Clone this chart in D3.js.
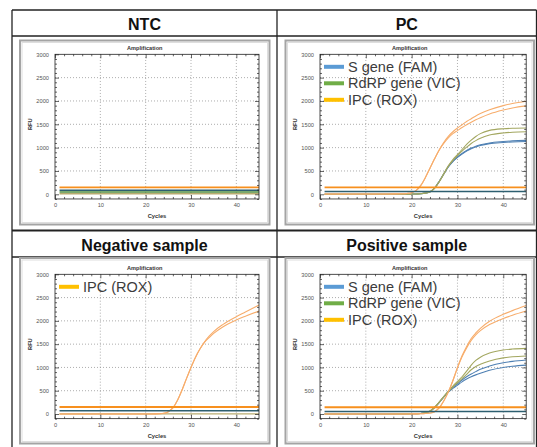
<!DOCTYPE html>
<html>
<head>
<meta charset="utf-8">
<script src="https://cdn.jsdelivr.net/npm/d3@7"></script>
<style>
  body { margin: 0; background: #fff; }
  svg { display: block; font-family: 'Liberation Sans', Arial, sans-serif; }
</style>
</head>
<body>
<div id="chart"></div>
<script>
// ---- data ----
const cellTitles = ['NTC', 'PC', 'Negative sample', 'Positive sample']
const legendLabels = ['S gene (FAM)', 'RdRP gene (VIC)', 'IPC (ROX)']
const xTicks = [0, 10, 20, 30, 40]
const yTicks = [0, 500, 1000, 1500, 2000, 2500, 3000]

// cycles where the curves were read
const cycles = [1, 10, 15, 18, 19, 20, 21, 22, 23, 24, 25, 26, 27, 28, 29, 30, 31, 32, 33, 34, 35, 37, 40, 42, 45]
const flatCycles = [1, 45]

// PC
const pcRox1 = [5, 5, 8, 12, 18, 35, 85, 190, 360, 560, 760, 950, 1110, 1240, 1340, 1420, 1490, 1560, 1620, 1680, 1730, 1810, 1900, 1945, 1995]
const pcRox2 = [5, 5, 8, 12, 18, 35, 85, 190, 360, 560, 760, 945, 1090, 1210, 1300, 1365, 1430, 1490, 1545, 1595, 1640, 1720, 1805, 1850, 1895]
const pcVic1 = [0, 0, 0, 2, 3, 5, 8, 12, 25, 55, 130, 270, 440, 610, 745, 850, 960, 1070, 1160, 1240, 1300, 1370, 1405, 1415, 1420]
const pcVic2 = [0, 0, 0, 2, 3, 5, 8, 12, 25, 50, 125, 265, 430, 600, 725, 830, 925, 1010, 1090, 1150, 1200, 1270, 1315, 1330, 1340]
const pcFam1 = [0, 0, 0, 2, 3, 5, 8, 12, 25, 55, 135, 275, 440, 590, 710, 800, 875, 940, 990, 1030, 1060, 1100, 1130, 1145, 1155]
const pcFam2 = [0, 0, 0, 2, 3, 5, 8, 12, 25, 50, 130, 270, 430, 585, 700, 790, 860, 925, 975, 1015, 1045, 1085, 1110, 1122, 1130]

// Positive sample
const posRox1 = [0, 0, 0, 0, 0, 2, 3, 5, 10, 20, 50, 130, 280, 470, 720, 1000, 1250, 1450, 1620, 1740, 1840, 1990, 2140, 2220, 2330]
const posRox2 = [0, 0, 0, 0, 0, 2, 3, 5, 10, 20, 50, 130, 280, 470, 715, 990, 1230, 1420, 1580, 1700, 1790, 1920, 2050, 2120, 2210]
const posVic1 = [0, 0, 0, 2, 3, 5, 7, 12, 28, 65, 145, 255, 375, 490, 600, 700, 800, 920, 1050, 1150, 1220, 1310, 1375, 1395, 1410]
const posVic2 = [0, 0, 0, 2, 3, 5, 7, 12, 27, 62, 140, 250, 370, 480, 580, 670, 760, 850, 950, 1020, 1070, 1140, 1205, 1228, 1245]
const posFam1 = [0, 0, 0, 2, 3, 5, 7, 12, 26, 60, 140, 250, 370, 480, 570, 650, 730, 800, 860, 910, 960, 1030, 1100, 1130, 1160]
const posFam2 = [0, 0, 0, 2, 3, 5, 7, 12, 25, 58, 135, 245, 360, 470, 550, 620, 690, 750, 800, 840, 875, 940, 1000, 1025, 1050]

// Negative sample
const negRox1 = [0, 0, 0, 0, 0, 0, 1, 2, 5, 15, 50, 130, 290, 510, 760, 1000, 1220, 1400, 1550, 1670, 1770, 1920, 2090, 2190, 2340]
const negRox2 = [0, 0, 0, 0, 0, 0, 1, 2, 5, 15, 50, 130, 290, 510, 760, 1000, 1220, 1400, 1545, 1640, 1730, 1870, 2020, 2100, 2210]

// flat lines (thresholds and non-amplified signals), NTC / PC / Neg / Pos
const roxThreshold = [[150, 150], [150, 150], [150, 150], [145, 145]]
const famThreshold = [[85, 85], [62, 62], [68, 68], [55, 55]]
const ntcVic = [49, 49]
const ntcBase = [12, 12]
const negBase = [2, 2]

// ---- layout ----
const W = 537
const H = 447
const colX = [12, 277, 536.5]
const rowY = [10, 230.5, 447]
const headBottom = [36, 257]
const colGeom = [
  { fx: 20, fw: 249.5, px0: 55, px1: 259 },
  { fx: 285.5, fw: 248.5, px0: 320, px1: 526.2 }
]
const rowGeom = [
  { fy: 40.5, fh: 184, py3000: 54.3, py0: 194.3 },
  { fy: 258, fh: 185.5, py3000: 274.3, py0: 414 }
]

const roxCurve = '#f7ad6c'
const vicCurve = '#a3a760'
const famCurve = '#4f80b3'
const legendColors = ['#5b9bd5', '#70ad47', '#ffc000']

const svg = d3.select('#chart').append('svg')
  .attr('width', W)
  .attr('height', H)

// table grid
const grid = svg.append('g').attr('stroke', '#222').attr('fill', 'none')
;[rowY[0], headBottom[0], rowY[1], headBottom[1]].forEach((yy, i) => {
  grid.append('line')
    .attr('x1', colX[0]).attr('x2', colX[2])
    .attr('y1', yy).attr('y2', yy)
    .attr('stroke-width', i === 2 ? 2 : 1.3)
})
colX.forEach(xx => {
  grid.append('line')
    .attr('x1', xx).attr('x2', xx)
    .attr('y1', rowY[0]).attr('y2', H)
    .attr('stroke-width', 1.3)
})

const line = (x, y, xs) => d3.line()
  .x((d, i) => x(xs[i]))
  .y(d => y(d))
  .curve(d3.curveMonotoneX)

const panels = [
  {
    col: 0, row: 0, legend: [],
    series: [
      { xs: flatCycles, v: ntcBase, color: '#b8ab70', w: 1.4 },
      { xs: flatCycles, v: ntcVic, color: '#4f8d3d', w: 1.4 },
      { xs: flatCycles, v: famThreshold[0], color: '#2e5f70', w: 1.5 },
      { xs: flatCycles, v: roxThreshold[0], color: '#f7901e', w: 1.8 }
    ]
  },
  {
    col: 1, row: 0, legend: [0, 1, 2],
    series: [
      { xs: cycles, v: pcFam2, color: famCurve, w: 1.1 },
      { xs: cycles, v: pcFam1, color: famCurve, w: 1.1 },
      { xs: cycles, v: pcVic2, color: vicCurve, w: 1.1 },
      { xs: cycles, v: pcVic1, color: vicCurve, w: 1.1 },
      { xs: cycles, v: pcRox2, color: roxCurve, w: 1.1 },
      { xs: cycles, v: pcRox1, color: roxCurve, w: 1.1 },
      { xs: flatCycles, v: famThreshold[1], color: '#2e5f70', w: 1.5 },
      { xs: flatCycles, v: roxThreshold[1], color: '#f7901e', w: 1.8 }
    ]
  },
  {
    col: 0, row: 1, legend: [2],
    series: [
      { xs: flatCycles, v: negBase, color: '#b8ab70', w: 1.4 },
      { xs: cycles, v: negRox2, color: roxCurve, w: 1.1 },
      { xs: cycles, v: negRox1, color: roxCurve, w: 1.1 },
      { xs: flatCycles, v: famThreshold[2], color: '#2e5f70', w: 1.5 },
      { xs: flatCycles, v: roxThreshold[2], color: '#f7901e', w: 1.8 }
    ]
  },
  {
    col: 1, row: 1, legend: [0, 1, 2],
    series: [
      { xs: cycles, v: posFam2, color: famCurve, w: 1.1 },
      { xs: cycles, v: posFam1, color: famCurve, w: 1.1 },
      { xs: cycles, v: posVic2, color: vicCurve, w: 1.1 },
      { xs: cycles, v: posVic1, color: vicCurve, w: 1.1 },
      { xs: cycles, v: posRox2, color: roxCurve, w: 1.1 },
      { xs: cycles, v: posRox1, color: roxCurve, w: 1.1 },
      { xs: flatCycles, v: famThreshold[3], color: '#2e5f70', w: 1.5 },
      { xs: flatCycles, v: roxThreshold[3], color: '#f7901e', w: 1.8 }
    ]
  }
]

const minorX = d3.range(0, 46, 2).filter(d => d % 10 !== 0)
const minorY = d3.range(-100, 3001, 100).filter(d => d % 500 !== 0)
const fmt = d3.format('d')

panels.forEach((p, k) => {
  const c = colGeom[p.col]
  const r = rowGeom[p.row]

  // cell header
  svg.append('text')
    .attr('x', (colX[p.col] + colX[p.col + 1]) / 2)
    .attr('y', headBottom[p.row] - 6.5)
    .attr('text-anchor', 'middle')
    .attr('font-weight', 'bold')
    .attr('font-size', 16)
    .attr('fill', '#111')
    .text(cellTitles[k])

  const g = svg.append('g')

  g.append('rect')
    .attr('x', c.fx).attr('y', r.fy)
    .attr('width', c.fw).attr('height', r.fh)
    .attr('fill', '#fff')
    .attr('stroke', '#a4a4a4')
    .attr('stroke-width', 2)
  g.append('rect')
    .attr('x', c.fx + 2).attr('y', r.fy + 2)
    .attr('width', c.fw - 4).attr('height', r.fh - 4)
    .attr('fill', 'none')
    .attr('stroke', '#dedede')
    .attr('stroke-width', 1)

  const x = d3.scaleLinear().domain([0, 45]).range([c.px0, c.px1])
  const y = d3.scaleLinear().domain([0, 3000]).range([r.py0, r.py3000])
  const yBot = y(-100)

  // grid
  g.selectAll('.gx').data(xTicks.filter(d => d > 0)).enter().append('line')
    .attr('x1', d => x(d)).attr('x2', d => x(d))
    .attr('y1', yBot).attr('y2', y(3000))
    .attr('stroke', '#8a8a8a').attr('stroke-width', 0.7)
    .attr('stroke-dasharray', '1,2')
  g.selectAll('.gy').data(yTicks.filter(d => d > 0 && d < 3000)).enter().append('line')
    .attr('x1', x(0)).attr('x2', x(45))
    .attr('y1', d => y(d)).attr('y2', d => y(d))
    .attr('stroke', '#8a8a8a').attr('stroke-width', 0.7)
    .attr('stroke-dasharray', '1,2')

  // curves
  const clipId = 'clip' + k
  g.append('clipPath').attr('id', clipId).append('rect')
    .attr('x', x(0)).attr('y', y(3000))
    .attr('width', x(45) - x(0)).attr('height', yBot - y(3000))
  const lines = g.append('g').attr('clip-path', `url(#${clipId})`)
  p.series.forEach(s => {
    lines.append('path')
      .datum(s.v)
      .attr('fill', 'none')
      .attr('stroke', s.color)
      .attr('stroke-width', s.w)
      .attr('d', line(x, y, s.xs))
  })

  // box
  g.append('rect')
    .attr('x', x(0)).attr('y', y(3000))
    .attr('width', x(45) - x(0)).attr('height', yBot - y(3000))
    .attr('fill', 'none').attr('stroke', '#222').attr('stroke-width', 0.8)

  const style = sel => {
    sel.select('.domain').remove()
    sel.selectAll('line').attr('stroke', '#222').attr('stroke-width', 0.7)
    sel.selectAll('text').attr('font-size', 5.7).attr('fill', '#555').attr('font-family', null)
  }

  g.append('g').attr('transform', `translate(0,${yBot})`)
    .call(d3.axisBottom(x).tickValues(xTicks).tickSize(-4).tickPadding(4).tickFormat(fmt))
    .call(style)
  g.append('g').attr('transform', `translate(0,${yBot})`)
    .call(d3.axisBottom(x).tickValues(minorX).tickSize(-2).tickFormat(''))
    .call(style)
  g.append('g').attr('transform', `translate(0,${y(3000)})`)
    .call(d3.axisTop(x).tickValues(xTicks).tickSize(-4).tickFormat(''))
    .call(style)
  g.append('g').attr('transform', `translate(0,${y(3000)})`)
    .call(d3.axisTop(x).tickValues(minorX).tickSize(-2).tickFormat(''))
    .call(style)
  g.append('g').attr('transform', `translate(${x(0)},0)`)
    .call(d3.axisLeft(y).tickValues(yTicks).tickSize(-4).tickPadding(6).tickFormat(fmt))
    .call(style)
  g.append('g').attr('transform', `translate(${x(0)},0)`)
    .call(d3.axisLeft(y).tickValues(minorY).tickSize(-2).tickFormat(''))
    .call(style)
  g.append('g').attr('transform', `translate(${x(45)},0)`)
    .call(d3.axisRight(y).tickValues(yTicks).tickSize(-4).tickFormat(''))
    .call(style)
  g.append('g').attr('transform', `translate(${x(45)},0)`)
    .call(d3.axisRight(y).tickValues(minorY).tickSize(-2).tickFormat(''))
    .call(style)

  // axis titles
  g.append('text')
    .attr('x', c.fx + c.fw / 2).attr('y', y(3000) - 4)
    .attr('text-anchor', 'middle').attr('font-weight', 'bold')
    .attr('font-size', 5.6).attr('fill', '#333')
    .text('Amplification')
  g.append('text')
    .attr('x', (x(0) + x(45)) / 2).attr('y', r.py0 + 23.5)
    .attr('text-anchor', 'middle').attr('font-weight', 'bold')
    .attr('font-size', 5.8).attr('fill', '#333')
    .text('Cycles')
  g.append('text')
    .attr('transform', `translate(${c.fx + 11.5},${(y(0) + y(3000)) / 2}) rotate(-90)`)
    .attr('text-anchor', 'middle').attr('font-weight', 'bold')
    .attr('font-size', 5.6).attr('fill', '#333')
    .text('RFU')

  // legend
  p.legend.forEach((li, i) => {
    const ly = y(3000) + 12.5 + i * 16.5
    g.append('line')
      .attr('x1', x(0) + 4).attr('x2', x(0) + 24)
      .attr('y1', ly).attr('y2', ly)
      .attr('stroke', legendColors[li]).attr('stroke-width', 4)
    g.append('text')
      .attr('x', x(0) + 28).attr('y', ly + 5)
      .attr('font-size', 14.5).attr('fill', '#3c3c3c')
      .text(legendLabels[li])
  })
})
</script>
</body>
</html>
